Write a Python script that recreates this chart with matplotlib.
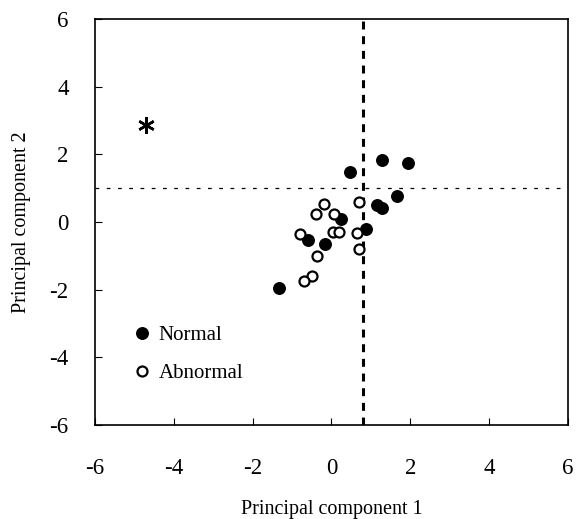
import matplotlib
matplotlib.use("Agg")
import matplotlib.pyplot as plt

plt.rcParams['font.family'] = ['Liberation Serif', 'DejaVu Serif']
plt.rcParams['axes.unicode_minus'] = False

normal_x = [0.48, 1.28, 1.93, 1.67, 1.16, 1.29, 0.23, 0.88, -0.59, -0.16, -1.34]
normal_y = [1.47, 1.83, 1.74, 0.78, 0.51, 0.43, 0.09, -0.19, -0.52, -0.65, -1.95]

abnormal_x = [-0.2, -0.4, 0.06, 0.7, -0.81, 0.03, 0.19, 0.65, 0.69, -0.36, -0.5, -0.69]
abnormal_y = [0.55, 0.23, 0.24, 0.61, -0.35, -0.28, -0.30, -0.33, -0.8, -0.99, -1.6, -1.75]

outlier_x = [-4.7]
outlier_y = [2.88]

cut_x = 0.8
cut_y = 1.0

fig = plt.figure(figsize=(5.76, 5.19), dpi=100)
ax = fig.add_axes([0.165, 0.181, 0.821, 0.782])

ax.axvline(cut_x, color='black', lw=2.2, ls=(0, (2.6, 2.2)), zorder=1)
ax.axhline(cut_y, color='black', lw=0.9, ls=(0, (3, 6)), zorder=1)

ax.plot(normal_x, normal_y, 'o', ms=8.3, mfc='black', mec='black', label='Normal', zorder=3)
ax.plot(abnormal_x, abnormal_y, 'o', ms=7.2, mfc='white', mec='black', mew=1.6,
        label='Abnormal', zorder=3)
ax.plot(outlier_x, outlier_y, marker=(6, 2, 0), ms=12, mew=1.8, color='black', ls='none', zorder=3)

ax.set_xlim(-6, 6)
ax.set_ylim(-6, 6)
ax.set_xticks(range(-6, 7, 2))
ax.set_yticks(range(-6, 7, 2))
ax.tick_params(direction='in', labelsize=16.5, length=5)
ax.tick_params(axis='x', pad=24)
ax.tick_params(axis='y', pad=19)
for s in ax.spines.values():
    s.set_linewidth(1.2)

ax.set_xlabel('Principal component 1', fontsize=14.5, labelpad=15)
ax.set_ylabel('Principal component 2', fontsize=14.5, labelpad=13)

h = ax.get_legend_handles_labels()
ax.legend(h[0][:2], h[1][:2], loc='lower left', bbox_to_anchor=(0.02, 0.052),
          frameon=False, fontsize=15, handletextpad=0.0, labelspacing=0.88,
          handlelength=1.6, borderpad=0.5)

fig.savefig('out.png', dpi=100)
